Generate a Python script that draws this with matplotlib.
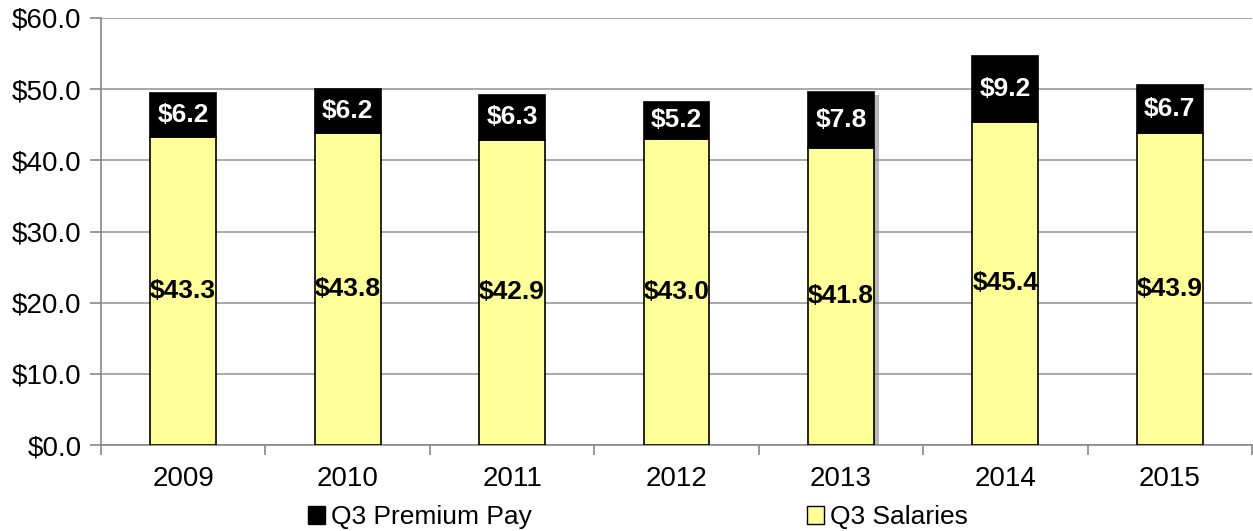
import matplotlib
matplotlib.use("Agg")
import matplotlib.pyplot as plt
from matplotlib.patches import Patch
import matplotlib.patheffects as pe

years = ["2009", "2010", "2011", "2012", "2013", "2014", "2015"]
salaries = [43.3, 43.8, 42.9, 43.0, 41.8, 45.4, 43.9]
premium = [6.2, 6.2, 6.3, 5.2, 7.8, 9.2, 6.7]
yticks = [0, 10, 20, 30, 40, 50, 60]

plt.rcParams['font.family'] = ['Liberation Sans', 'DejaVu Sans']

fig = plt.figure(figsize=(12.53, 5.31), dpi=100)
ax = fig.add_axes([101/1253, 1-445/531, 1151/1253, 427/531])

x = list(range(len(years)))
w = 0.4
totals = [s + p for s, p in zip(salaries, premium)]

# soft shadow behind the 2013 bar (shadow only)
shadow = ax.bar([x[4]], [totals[4]], w, color="white", linewidth=0, zorder=2.5)
for b in shadow:
    b.set_path_effects([pe.SimplePatchShadow(offset=(4, -2), shadow_rgbFace="gray", alpha=0.55)])

sal_bars = ax.bar(x, salaries, w, color="#FFFF99", edgecolor="black", linewidth=1.2, zorder=3)
prem_bars = ax.bar(x, premium, w, bottom=salaries, color="black", edgecolor="black", linewidth=1.2, zorder=3)

for i in x:
    ax.text(i, salaries[i] / 2, f"${salaries[i]:.1f}", ha="center", va="center",
            fontsize=19, fontweight="bold", color="black", zorder=5)
    ax.text(i, salaries[i] + premium[i] / 2, f"${premium[i]:.1f}", ha="center", va="center",
            fontsize=19, fontweight="bold", color="white", zorder=5)

ax.set_xlim(-0.5, len(years) - 0.5)
ax.set_ylim(0, 60)
ax.set_yticks(yticks)
ax.set_yticklabels([f"${v:.1f}" for v in yticks], fontsize=20)
ax.set_xticks(x)
ax.set_xticklabels(years, fontsize=20)
ax.set_xticks([i + 0.5 for i in range(-1, len(years))], minor=True)
ax.tick_params(axis="x", which="major", length=0, pad=15)
ax.tick_params(axis="x", which="minor", length=7, color="#888888", width=1.2)
ax.tick_params(axis="y", length=8, color="#888888", width=1.2, pad=6)

ax.grid(axis="y", color="#999999", linewidth=1.2, zorder=0)
for s in ["top", "right"]:
    ax.spines[s].set_visible(False)
for s in ["left", "bottom"]:
    ax.spines[s].set_color("#888888")
    ax.spines[s].set_linewidth(1.2)

handles = [Patch(facecolor="black", edgecolor="black", label="Q3 Premium Pay"),
           Patch(facecolor="#FFFF99", edgecolor="black", label="Q3 Salaries")]
fig.legend(handles=handles, loc="center", bbox_to_anchor=(638/1253, 1-517/531), ncol=2,
           frameon=False, fontsize=19, handlelength=0.65, handleheight=0.65,
           handletextpad=0.25, columnspacing=10.4, borderpad=0)

fig.savefig("out.png", dpi=100)
